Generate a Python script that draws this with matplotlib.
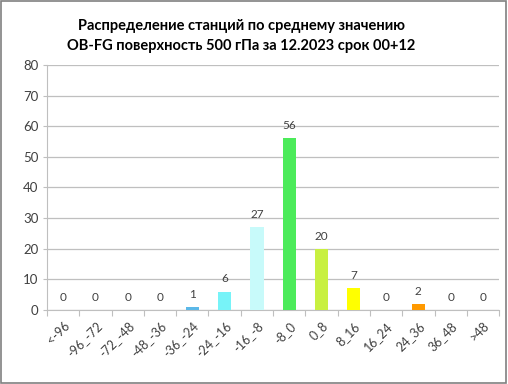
import matplotlib
matplotlib.use("Agg")
import matplotlib.pyplot as plt
from matplotlib.patches import Rectangle

plt.rcParams['font.family'] = ['Lato', 'DejaVu Sans']

categories = ['<-96', '-96_-72', '-72_-48', '-48_-36', '-36_-24', '-24_-16', '-16_-8',
              '-8_0', '0_8', '8_16', '16_24', '24_36', '36_48', '>48']
values = [0, 0, 0, 0, 1, 6, 27, 56, 20, 7, 0, 2, 0, 0]
colors = ['#5BB8E8', '#5BB8E8', '#5BB8E8', '#5BB8E8', '#5BB8E8', '#77F3F8', '#C8FAFA',
          '#4CEB5A', '#C8F040', '#FFFF00', '#FF9900', '#FF9900', '#FF9900', '#FF9900']
title = "Распределение станций по среднему значению\nOB-FG поверхность 500 гПа за 12.2023 срок 00+12"

fig = plt.figure(figsize=(5.08, 3.84), dpi=100)
fig.patch.set_facecolor('white')
fig.add_artist(Rectangle((0.002, 0.003), 0.995, 0.994, transform=fig.transFigure,
                         fill=False, edgecolor='#808080', linewidth=1.2))

ax = fig.add_axes([0.0925, 0.193, 0.890, 0.638])
x = list(range(len(categories)))
ax.bar(x, values, width=0.41, color=colors, zorder=3)
for xi, v in zip(x, values):
    ax.text(xi, v + 2.3, str(v), ha='center', va='bottom', fontsize=8.5, color='#404040')

ax.set_xlim(-0.5, len(categories) - 0.5)
ax.set_ylim(0, 80)
ax.set_yticks(range(0, 81, 10))
ax.tick_params(axis='y', length=3, color='#BFBFBF', labelsize=9.5, labelcolor='#404040', pad=3)
ax.set_xticks([i - 0.5 for i in range(len(categories) + 1)], minor=False)
ax.set_xticklabels([''] * (len(categories) + 1))
ax.tick_params(axis='x', length=4, color='#BFBFBF', direction='out')
ax.set_xticks(x, minor=True)
ax.set_xticklabels(categories, minor=True, rotation=45, ha='right', rotation_mode='anchor',
                   fontsize=9, color='#404040')
ax.tick_params(axis='x', which='minor', length=0, pad=7)
ax.grid(axis='y', color='#BFBFBF', linewidth=0.9, zorder=0)
for s in ['top', 'right']:
    ax.spines[s].set_visible(False)
ax.spines['left'].set_color('#BFBFBF')
ax.spines['bottom'].set_color('#BFBFBF')

fig.text(0.475, 0.907, title, ha='center', va='center', fontsize=10.5, fontweight='bold',
         color='black', linespacing=1.55)

fig.savefig('out.png', dpi=100)
